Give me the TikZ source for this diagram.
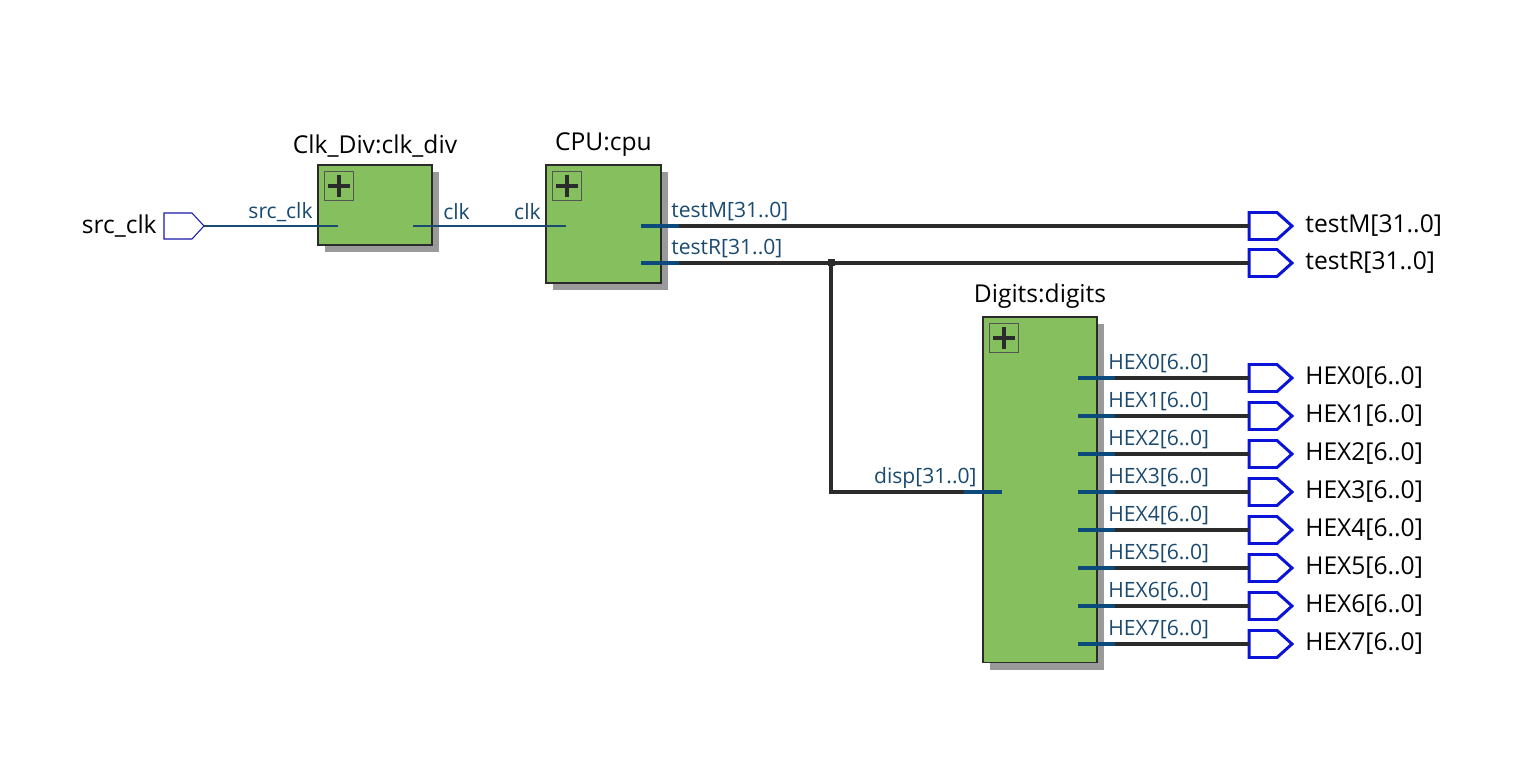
\documentclass[tikz,border=0pt]{standalone}
\usepackage{fontspec}
\setmainfont{Open Sans}
\usetikzlibrary{positioning, calc, shadows}

\definecolor{blockgreen}{HTML}{85BF5E}
\definecolor{shadowgray}{HTML}{9A9A9A}
\definecolor{pinblue}{HTML}{0B4A7A}
\definecolor{labelblue}{HTML}{1A4A70}
\definecolor{wiredark}{HTML}{2B2B2B}
\definecolor{portblue}{HTML}{0A14D8}
\definecolor{inportblue}{HTML}{1A1AA8}

\tikzset{
  block/.style={draw=wiredark, line width=0.6pt, fill=blockgreen, inner sep=0pt, outer sep=0pt, anchor=north west,
    drop shadow={shadow xshift=0.14cm, shadow yshift=-0.14cm, fill=shadowgray, opacity=1}},
  plusbox/.style={draw=wiredark!80, line width=0.6pt, minimum size=0.58cm, inner sep=0pt, anchor=north west,
    path picture={\draw[wiredark, line width=1.9pt] ($(path picture bounding box.center)+(-11,0)$) -- ++(22,0);
      \draw[wiredark, line width=1.9pt] ($(path picture bounding box.center)+(0,-11)$) -- ++(0,22);}},
  title/.style={font=\fontsize{14}{16}\selectfont, inner sep=1pt},
  portlabel/.style={font=\fontsize{14}{16}\selectfont, inner sep=0pt, anchor=west},
  pinlabel/.style={font=\fontsize{12}{14}\selectfont, text=labelblue, inner sep=0pt},
  pinstub/.style={pinblue, line width=2.3pt},
  bus/.style={wiredark, line width=2.3pt},
  thinwire/.style={labelblue, line width=0.6pt},
  outport/.pic={\draw[portblue, line width=1.7pt, line join=miter] (0,-13.5) -- (28,-13.5) -- (43,0) -- (28,13.5) -- (0,13.5) -- cycle;
    \coordinate (-in) at (0,0);},
  inport/.pic={\draw[inportblue, line width=0.6pt] (0,-13) -- (28,-13) -- (40,0) -- (28,13) -- (0,13) -- cycle;
    \coordinate (-tip) at (40,0);}
}

\begin{document}
\begin{tikzpicture}[x=0.02cm, y=-0.02cm]
  \useasboundingbox (0,0) rectangle (1519,763);

  \node[block, minimum width=2.28cm, minimum height=1.6cm] (clkdiv) at (318,165) {};
  \node[block, minimum width=2.3cm, minimum height=2.36cm] (cpu) at (546,165) {};
  \node[block, minimum width=2.28cm, minimum height=6.92cm] (digits) at (983,317) {};

  \node[plusbox] at ($(clkdiv.north west)+(6,6)$) {};
  \node[plusbox] at ($(cpu.north west)+(6,6)$) {};
  \node[plusbox] at ($(digits.north west)+(6,6)$) {};

  \node[title, above=0.12cm of clkdiv] {Clk\_Div:clk\_div};
  \node[title, above=0.12cm of cpu] {CPU:cpu};
  \node[title, above=0.12cm of digits] {Digits:digits};

  \pic (srcport) at (164,226) {inport};
  \node[portlabel, anchor=east] at (157,226) {src\_clk};
  \coordinate (clkdivin) at (338,226);
  \coordinate (clkdivout) at (413,226);
  \coordinate (cpuclk) at (566,226);
  \draw[thinwire] (srcport-tip) -- (clkdivin);
  \draw[thinwire] (clkdivout) -- (cpuclk);
  \node[pinlabel, anchor=east] at (313,212) {src\_clk};
  \node[pinlabel, anchor=west] at (443,212) {clk};
  \node[pinlabel, anchor=east] at (541,212) {clk};

  \pic (portM) at (1249,226) {outport};
  \pic (portR) at (1249,263) {outport};
  \coordinate (cpuM) at (641,226);
  \coordinate (cpuR) at (641,263);
  \draw[pinstub] (cpuM) -- ++(38,0) coordinate (cpuMout);
  \draw[pinstub] (cpuR) -- ++(38,0) coordinate (cpuRout);
  \draw[bus] (cpuMout) -- (portM-in);
  \draw[bus] (cpuRout) -- (portR-in);
  \node[pinlabel, anchor=west] at (671,212) {testM[31..0]};
  \node[pinlabel, anchor=west] at (671,249) {testR[31..0]};
  \node[portlabel] at (1305,226) {testM[31..0]};
  \node[portlabel] at (1305,263) {testR[31..0]};

  \coordinate (junc) at (831,263);
  \coordinate (dispin) at (1002,492);
  \draw[pinstub] (dispin) -- ++(-38,0) coordinate (dispout);
  \draw[bus] (junc) |- (dispout);
  \fill[wiredark] ($(junc)+(-3.5,-3.5)$) rectangle ++(7,7);
  \node[pinlabel, anchor=east] at (977,478) {disp[31..0]};

  \foreach \i in {0,...,7}{
    \coordinate (hexpin\i) at (1078,378+38*\i);
    \pic (hexport\i) at (1249,378+38*\i) {outport};
    \draw[pinstub] (hexpin\i) -- ++(37,0) coordinate (hexout\i);
    \draw[bus] (hexout\i) -- (hexport\i-in);
    \node[pinlabel, anchor=west] at (1108,364+38*\i) {HEX\i[6..0]};
    \node[portlabel] at (1305,378+38*\i) {HEX\i[6..0]};
  }
\end{tikzpicture}
\end{document}
